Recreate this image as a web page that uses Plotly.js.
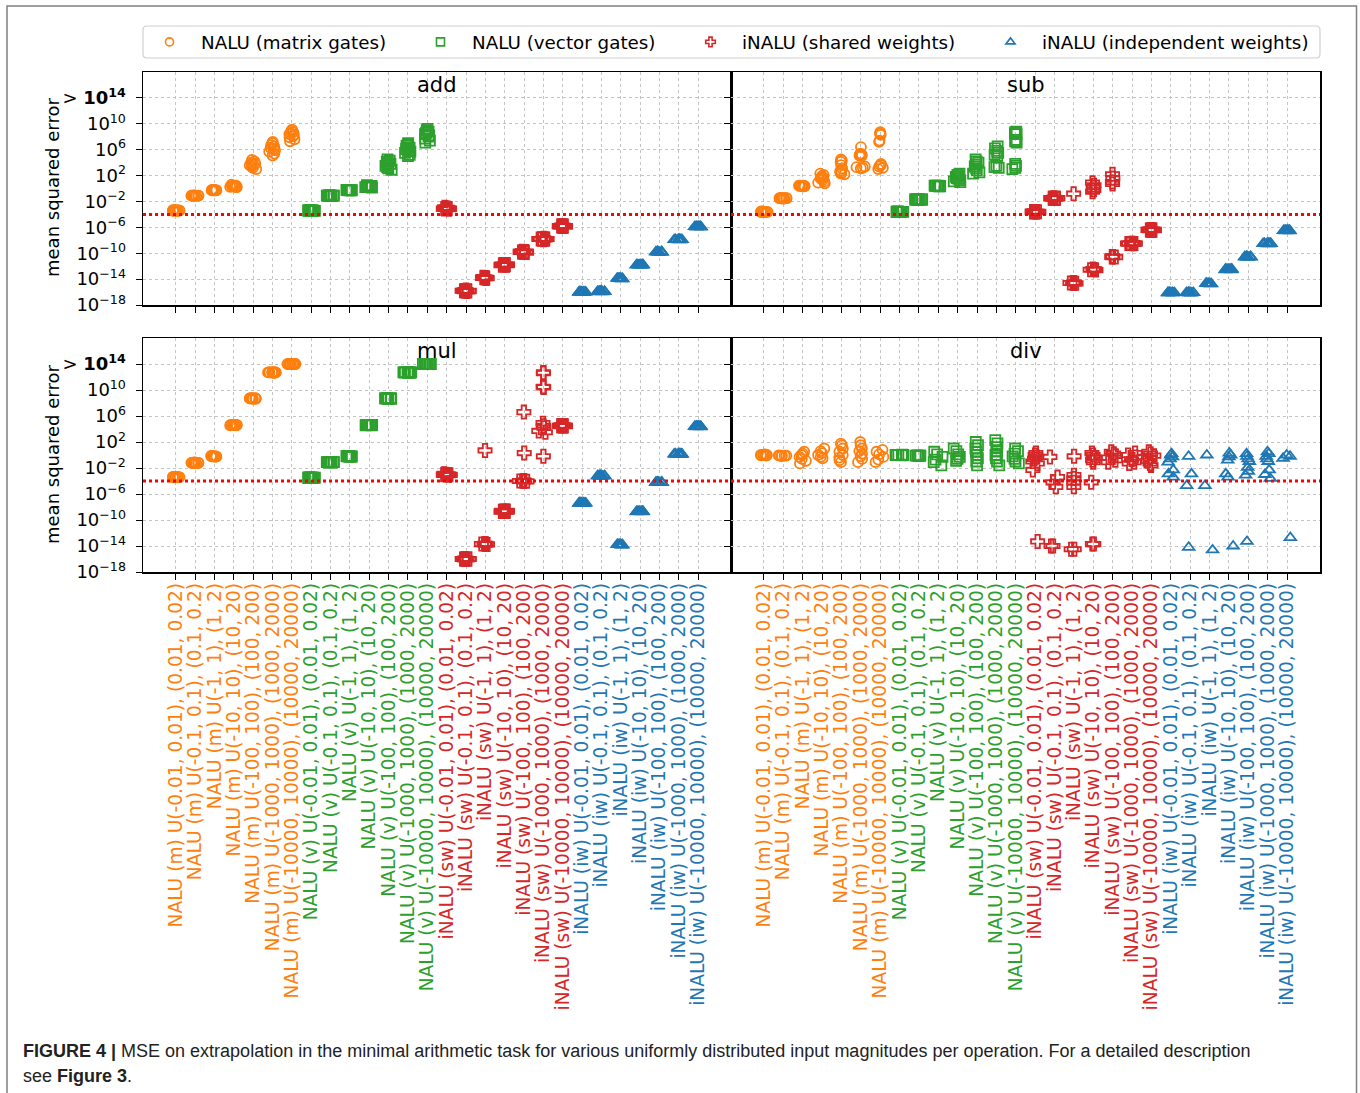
<!DOCTYPE html>
<html><head><meta charset="utf-8">
<script src="https://cdn.plot.ly/plotly-3.0.1.min.js"></script>
<style>html,body{margin:0;padding:0;background:#fff;}#chart{width:1360px;height:1093px;}</style>
</head><body><div id="chart"></div>
<script>
// ---------- categories / labels ----------
const inputRanges = ["U(-0.01, 0.01), (0.01, 0.02)", "U(-0.1, 0.1), (0.1, 0.2)", "U(-1, 1), (1, 2)",
  "U(-10, 10), (10, 20)", "U(-100, 100), (100, 200)", "U(-1000, 1000), (1000, 2000)",
  "U(-10000, 10000), (10000, 20000)"];
const modelPrefixes = ["NALU (m)", "NALU (v)", "iNALU (sw)", "iNALU (iw)"];
const modelNames = ["NALU (matrix gates)", "NALU (vector gates)", "iNALU (shared weights)", "iNALU (independent weights)"];
const modelColors = ["#ff7f0e", "#2ca02c", "#d62728", "#1f77b4"];
const modelSymbols = ["circle-open", "square-open", "cross-open", "triangle-up-open"];
const operations = ["add", "sub", "mul", "div"];
const yTickExponents = [-18, -14, -10, -6, -2, 2, 6, 10, 14];
const yTickText = ["10<sup>−18</sup>", "10<sup>−14</sup>", "10<sup>−10</sup>", "10<sup>−6</sup>", "10<sup>−2</sup>",
  "10<sup>2</sup>", "10<sup>6</sup>", "10<sup>10</sup>", "> <b>10<sup>14</sup></b>"];
const successThreshold = 1e-4;
const yAxisTitle = "mean squared error";
const captionLine1 = "<b>FIGURE 4 |</b> MSE on extrapolation in the minimal arithmetic task for various uniformly distributed input magnitudes per operation. For a detailed description";
const captionLine2 = "see <b>Figure 3</b>.";

// ---------- data: log10(MSE) per seed, one inner list per input range ----------
const add_NALUm = [
  [-3.45,-3.4,-3.4,-3.35,-3.4,-3.45,-3.4,-3.35,-3.4,-3.4],
  [-1.1,-1.05,-1.1,-1.15,-1.1,-1.1,-1.05,-1.1,-1.15,-1.1],
  [-0.3,-0.25,-0.3,-0.2,-0.25,-0.3,-0.3,-0.25,-0.2,-0.3],
  [0.6,0.45,0.4,0.35,0.3,0.3,0.25,0.2,0.35,0.4],
  [4.4,4.2,4.0,3.9,3.8,3.7,3.6,3.4,3.2,3.0],
  [7.2,7.0,6.7,6.5,6.3,6.1,5.9,5.7,5.4,5.1],
  [9.1,8.9,8.7,8.6,8.4,8.3,8.1,7.9,7.6,7.3]];
const add_NALUv = [
  [-3.45,-3.4,-3.45,-3.4,-3.35,-3.4,-3.45,-3.4,-3.4,-3.35],
  [-1.1,-1.1,-1.05,-1.1,-1.15,-1.1,-1.1,-1.05,-1.1,-1.1],
  [-0.25,-0.3,-0.25,-0.2,-0.25,-0.3,-0.25,-0.2,-0.3,-0.25],
  [0.5,0.4,0.3,0.25,0.2,0.15,0.3,0.35,0.25,0.2],
  [4.5,4.3,4.1,3.9,3.8,3.7,3.5,3.3,3.1,2.9],
  [7.0,6.8,6.6,6.3,6.1,5.9,5.7,5.5,5.2,5.0],
  [9.2,9.0,8.8,8.6,8.4,8.2,8.0,7.7,7.4,7.1]];
const add_iNALUsw = [
  [-2.9,-3.0,-3.1,-3.1,-3.15,-3.2,-3.1,-3.05,-3.0,-3.1],
  [-15.7,-15.8,-15.8,-15.85,-15.9,-15.8,-15.75,-15.8,-15.85,-15.8],
  [-13.7,-13.8,-13.8,-13.85,-13.8,-13.75,-13.8,-13.8,-13.85,-13.8],
  [-11.75,-11.8,-11.8,-11.85,-11.8,-11.8,-11.75,-11.8,-11.85,-11.8],
  [-9.7,-9.8,-9.8,-9.85,-9.8,-9.75,-9.8,-9.9,-9.8,-9.8],
  [-7.7,-7.8,-7.8,-7.85,-7.8,-7.75,-7.8,-7.9,-7.8,-7.8],
  [-5.75,-5.8,-5.8,-5.85,-5.8,-5.75,-5.8,-5.85,-5.8,-5.8]];
const add_iNALUiw = [
  [-16.0,-16.05,-16.0,-15.95,-16.0,-16.05,-16.0,-16.0,-15.95,-16.0],
  [-15.9,-15.95,-15.9,-15.85,-15.9,-15.95,-15.9,-15.9,-15.85,-15.9],
  [-13.9,-13.95,-13.9,-13.85,-13.9,-13.9,-13.95,-13.9,-13.85,-13.9],
  [-11.8,-11.85,-11.8,-11.75,-11.8,-11.85,-11.8,-11.8,-11.75,-11.8],
  [-9.8,-9.85,-9.8,-9.75,-9.8,-9.85,-9.8,-9.8,-9.75,-9.8],
  [-7.9,-7.95,-7.9,-7.85,-7.9,-7.95,-7.9,-7.9,-7.85,-7.9],
  [-5.9,-5.95,-5.9,-5.85,-5.9,-5.95,-5.9,-5.9,-5.85,-5.9]];

const sub_NALUm = [
  [-3.6,-3.6,-3.55,-3.65,-3.6,-3.6,-3.55,-3.6,-3.65,-3.6],
  [-1.5,-1.5,-1.45,-1.55,-1.5,-1.5,-1.45,-1.5,-1.55,-1.5],
  [0.4,0.45,0.35,0.4,0.45,0.4,0.35,0.4,0.45,0.4],
  [2.3,2.1,1.9,1.7,1.6,1.5,1.3,1.1,0.9,0.8],
  [4.5,4.3,4.1,3.6,3.1,2.8,2.6,2.4,2.3,2.2],
  [6.4,5.4,5.3,5.2,5.1,5.0,3.4,3.3,3.2,3.1],
  [8.7,8.5,8.3,7.4,7.2,3.8,3.6,3.4,3.2,3.0]];
const sub_NALUv = [
  [-3.6,-3.6,-3.55,-3.65,-3.6,-3.6,-3.55,-3.6,-3.65,-3.6],
  [-1.7,-1.7,-1.65,-1.75,-1.7,-1.7,-1.65,-1.7,-1.75,-1.7],
  [0.4,0.45,0.35,0.4,0.45,0.4,0.35,0.4,0.45,0.4],
  [2.3,2.1,1.9,1.8,1.6,1.5,1.3,1.1,1.0],
  [4.5,4.2,4.0,3.7,3.4,3.1,2.8,2.5,2.3],
  [6.5,6.2,5.8,5.5,5.2,5.0,3.5,3.3,3.2],
  [8.8,8.7,8.5,8.4,7.5,7.3,7.1,3.8,3.5,3.2,3.0]];
const sub_iNALUsw = [
  [-3.6,-3.6,-3.55,-3.65,-3.6,-3.6,-3.55,-3.6,-3.65,-3.6],
  [-1.5,-1.5,-1.45,-1.55,-1.5,-1.5,-1.45,-1.5,-1.55,-1.5],
  [-0.8,-14.6,-14.6,-14.55,-14.65,-14.6,-14.6,-14.55,-14.65,-14.6],
  [0.9,0.5,0.2,-0.2,-0.5,-12.5,-12.5,-12.6,-12.45,-12.55],
  [2.2,1.6,1.0,0.7,-10.5,-10.6,-10.55,-10.6,-10.5,-10.55],
  [-8.5,-8.5,-8.45,-8.55,-8.5,-8.5,-8.45,-8.55,-8.5,-8.5],
  [-6.4,-6.4,-6.35,-6.45,-6.4,-6.4,-6.35,-6.45,-6.4,-6.4]];
const sub_iNALUiw = [
  [-16.1,-16.1,-16.05,-16.15,-16.1,-16.1,-16.05,-16.15,-16.1,-16.1],
  [-16.1,-16.1,-16.05,-16.15,-16.1,-16.1,-16.05,-16.15,-16.1,-16.1],
  [-14.7,-14.7,-14.65,-14.75,-14.7,-14.7,-14.65,-14.75,-14.7,-14.7],
  [-12.5,-12.5,-12.45,-12.55,-12.5,-12.5,-12.45,-12.55,-12.5,-12.5],
  [-10.55,-10.55,-10.5,-10.6,-10.55,-10.55,-10.5,-10.6,-10.55,-10.55],
  [-8.5,-8.5,-8.45,-8.55,-8.5,-8.5,-8.45,-8.55,-8.5,-8.5],
  [-6.5,-6.5,-6.45,-6.55,-6.5,-6.5,-6.45,-6.55,-6.5,-6.5]];

const mul_NALUm = [
  [-3.4,-3.4,-3.35,-3.45,-3.4,-3.4,-3.35,-3.45,-3.4,-3.4],
  [-1.2,-1.2,-1.15,-1.25,-1.2,-1.2,-1.15,-1.25,-1.2,-1.2],
  [-0.2,-0.2,-0.15,-0.25,-0.2,-0.2,-0.15,-0.25,-0.2,-0.2],
  [4.6,4.6,4.55,4.65,4.6,4.6,4.55,4.65,4.6,4.6],
  [8.7,8.7,8.65,8.75,8.7,8.7,8.65,8.75,8.7,8.7],
  [12.7,12.7,12.65,12.75,12.7,12.7,12.65,12.75,12.7,12.7],
  [14,14,14,14,14,14,14,14,14,14]];
const mul_NALUv = [
  [-3.5,-3.5,-3.45,-3.55,-3.5,-3.5,-3.45,-3.55,-3.5,-3.5],
  [-1.1,-1.1,-1.05,-1.15,-1.1,-1.1,-1.05,-1.15,-1.1,-1.1],
  [-0.2,-0.2,-0.15,-0.25,-0.2,-0.2,-0.15,-0.25,-0.2,-0.2],
  [4.6,4.6,4.55,4.65,4.6,4.6,4.55,4.65,4.6,4.6],
  [8.7,8.7,8.65,8.75,8.7,8.7,8.65,8.75,8.7,8.7],
  [12.7,12.7,12.65,12.75,12.7,12.7,12.65,12.75,12.7,12.7],
  [14,14,14,14,14,14,14,14,14,14]];
const mul_iNALUsw = [
  [-2.9,-3.0,-3.0,-3.05,-3.1,-3.0,-2.95,-3.0,-3.05,-3.0],
  [-16.0,-16.0,-15.95,-16.05,-16.0,-16.0,-15.95,-16.05,-16.0,-16.0],
  [0.7,-13.7,-13.7,-13.65,-13.75,-13.7,-13.7,-13.65,-13.75,-13.7],
  [-8.65,-8.65,-8.6,-8.7,-8.65,-8.65,-8.6,-8.7,-8.65,-8.65],
  [6.6,0.3,-4.0,-4.0,-3.95,-4.05,-4.0,-4.0,-3.95,-4.05],
  [12.7,12.6,10.5,10.4,4.9,4.5,4.2,3.7,3.5,-0.2],
  [4.5,4.5,4.45,4.55,4.5,4.5,4.45,4.55,4.5,4.5]];
const mul_iNALUiw = [
  [-7.4,-7.4,-7.35,-7.45,-7.4,-7.4,-7.35,-7.45,-7.4,-7.4],
  [-3.2,-3.2,-3.15,-3.25,-3.2,-3.2,-3.15,-3.25,-3.2,-3.2],
  [-13.8,-13.8,-13.75,-13.85,-13.8,-13.8,-13.75,-13.85,-13.8,-13.8],
  [-8.7,-8.7,-8.65,-8.75,-8.7,-8.7,-8.65,-8.75,-8.7,-8.7],
  [-4.2,-4.2,-4.15,-4.25,-4.2,-4.2,-4.15,-4.25,-4.2,-4.2],
  [0.15,0.15,0.1,0.2,0.15,0.15,0.1,0.2,0.15,0.15],
  [4.4,4.4,4.35,4.45,4.4,4.4,4.35,4.45,4.4,4.4]];

const div_NALUm = [
  [0.1,0.0,0.0,-0.1,0.0,0.05,0.0,-0.05],
  [-0.1,-0.1,-0.05,-0.15,-0.1,-0.1],
  [0.5,0.2,0.0,-0.3,-0.6,-0.9,-1.3],
  [1.0,0.6,0.3,0.0,-0.3,-0.5],
  [1.75,1.5,1.0,0.5,0.0,-0.4,-0.8,-1.1],
  [2.0,1.5,1.0,0.6,0.2,-0.2,-0.6,-1.1],
  [0.8,0.5,0.1,-0.3,-0.7,-1.1]];
const div_NALUv = [
  [0.0,0.0,0.05,-0.05,0.0,0.0],
  [-0.1,-0.1,-0.05,-0.15,-0.1,-0.1],
  [0.5,0.1,-0.3,-0.7,-1.1,-1.6],
  [1.0,0.6,0.1,-0.3,-0.6,-0.9],
  [2.0,1.5,1.0,0.5,0.0,-0.5,-1.0,-1.6],
  [2.3,1.8,1.2,0.6,0.0,-0.5,-1.0,-1.6],
  [1.0,0.6,0.2,-0.2,-0.6,-1.0,-1.3]];
const div_iNALUsw = [
  [0.3,0.0,-0.3,-0.6,-1.0,-1.3,-2.3,-13.3],
  [-0.3,-3.4,-4.2,-4.9,-14.0,-14.0],
  [-0.2,-3.1,-3.6,-4.2,-4.9,-14.5,-14.5],
  [0.3,0.0,-0.4,-0.8,-1.1,-4.2,-13.7,-13.7],
  [0.5,0.2,-0.1,-0.4,-0.8,-1.1],
  [0.3,0.0,-0.3,-0.7,-1.1,-1.3],
  [0.5,0.2,-0.1,-0.5,-0.9,-1.3,-1.6]];
const div_iNALUiw = [
  [0.2,0.0,-0.3,-0.6,-1.1,-2.3,-2.9,-3.4],
  [-0.2,-2.9,-4.7,-14.2],
  [0.0,-4.7,-14.6],
  [0.3,0.0,-0.3,-0.8,-2.9,-3.4,-14.0],
  [0.2,-0.2,-0.6,-1.0,-1.9,-2.5,-3.1,-13.3],
  [0.5,0.2,-0.2,-0.6,-1.0,-2.3,-3.0,-3.6],
  [0.0,-0.2,-0.5,-12.7]];

const opData = {
  add: [add_NALUm, add_NALUv, add_iNALUsw, add_iNALUiw],
  sub: [sub_NALUm, sub_NALUv, sub_iNALUsw, sub_iNALUiw],
  mul: [mul_NALUm, mul_NALUv, mul_iNALUsw, mul_iNALUiw],
  div: [div_NALUm, div_NALUv, div_iNALUsw, div_iNALUiw]
};

// ---------- geometry helpers (page px -> paper) ----------
const L = 143, R = 1320, T = 72, B = 572, W = 1360, H = 1093;
const PW = R - L, PH = B - T;
const px = v => (v - L) / PW;
const py = v => (B - v) / PH;
const midX = px(731);

const catLabels = [], catTicks = [];
modelPrefixes.forEach((p, g) => inputRanges.forEach(r => {
  const lab = p + " " + r;
  catLabels.push(lab);
  catTicks.push('<span style="color:' + modelColors[g] + '">' + lab + '</span>');
}));

const axisSuffix = ["", "2", "3", "4"];
const traces = [];
operations.forEach((op, oi) => {
  opData[op].forEach((series, g) => {
    const xs = [], ys = [];
    series.forEach((vals, ri) => vals.forEach(v => {
      xs.push(modelPrefixes[g] + " " + inputRanges[ri]);
      ys.push(Math.pow(10, v));
    }));
    traces.push({
      type: 'box', x: xs, y: ys, xaxis: 'x' + axisSuffix[oi], yaxis: 'y' + axisSuffix[oi],
      boxpoints: 'all', jitter: 1.0, pointpos: 0, whiskerwidth: 0,
      fillcolor: 'rgba(0,0,0,0)', line: {width: 0, color: 'rgba(0,0,0,0)'},
      marker: {symbol: modelSymbols[g], size: g === 2 ? 11 : 10, color: modelColors[g],
               line: {width: 1.8, color: modelColors[g]}},
      showlegend: false, hoveron: 'points', name: modelNames[g]
    });
  });
});
// legend-only entries
const legendMarkerX = [170, 440, 710, 1010];
modelNames.forEach((n, g) => {
  traces.push({type: 'scatter', mode: 'markers', x: [null], y: [null], xaxis: 'x', yaxis: 'y',
    name: n, legend: g === 0 ? 'legend' : 'legend' + (g + 1), showlegend: true,
    marker: {symbol: modelSymbols[g], size: 8, color: modelColors[g], line: {width: 1.6, color: modelColors[g]}}});
});

const font = {family: 'DejaVu Sans', size: 18, color: '#000'};
function xax(domain, anchor, showLabels) {
  return {domain, anchor, type: 'category', range: [-1.7, 28.7], categoryorder: 'array', categoryarray: catLabels,
    tickmode: 'array', tickvals: catLabels, ticktext: catTicks, showticklabels: showLabels, tickangle: -90,
    ticks: 'outside', ticklen: 6, tickcolor: '#000', tickwidth: 1, showgrid: true, gridcolor: '#c4c4c4',
    griddash: 'dot', gridwidth: 1, showline: true, linecolor: '#000', linewidth: 1.5, mirror: true,
    zeroline: false, tickfont: {family: 'DejaVu Sans', size: 18.6}, ticklabelstandoff: -4,
    automargin: false, fixedrange: true};
}
function yax(domain, anchor, showLabels) {
  return {domain, anchor, type: 'log', range: [-18, 18], tickmode: 'array',
    tickvals: yTickExponents.map(e => Math.pow(10, e)), ticktext: yTickText, showticklabels: showLabels,
    ticks: 'outside', ticklen: 6, tickcolor: '#000', tickwidth: 1, showgrid: true, gridcolor: '#c4c4c4',
    griddash: 'dot', gridwidth: 1, showline: true, linecolor: '#000', linewidth: 1.5, mirror: true,
    zeroline: false, tickfont: {family: 'DejaVu Sans', size: 18}, ticklabelstandoff: 6, automargin: false, fixedrange: true};
}
const topDom = [py(305), 1], botDom = [0, py(338)];

const shapes = [];
['', '2', '3', '4'].forEach(s => shapes.push({type: 'line', xref: 'x' + s + ' domain', yref: 'y' + s,
  x0: 0, x1: 1, y0: successThreshold, y1: successThreshold, line: {color: '#ff0000', width: 3, dash: 'dot'}}));
// legend frame (rounded)
const lx0 = 0, lx1 = 1, ly0 = py(58), ly1 = py(26), rx = 4 / PW, ry = 4 / PH;
shapes.push({type: 'path', xref: 'paper', yref: 'paper', line: {color: '#d0d0d0', width: 1.2}, fillcolor: 'rgba(0,0,0,0)',
  path: `M ${lx0 + rx} ${ly1} L ${lx1 - rx} ${ly1} Q ${lx1} ${ly1} ${lx1} ${ly1 - ry} L ${lx1} ${ly0 + ry} Q ${lx1} ${ly0} ${lx1 - rx} ${ly0} L ${lx0 + rx} ${ly0} Q ${lx0} ${ly0} ${lx0} ${ly0 + ry} L ${lx0} ${ly1 - ry} Q ${lx0} ${ly1} ${lx0 + rx} ${ly1} Z`});
// outer figure frame
shapes.push({type: 'rect', xref: 'paper', yref: 'paper', x0: px(7), x1: px(1356.5), y0: py(1110), y1: py(6),
  line: {color: '#808080', width: 1.5}, fillcolor: 'rgba(0,0,0,0)'});

const annotations = [];
const titlePos = [[px(437), py(85)], [px(1025.5), py(85)], [px(437), py(351)], [px(1025.5), py(351)]];
operations.forEach((op, i) => annotations.push({text: op, xref: 'paper', yref: 'paper', x: titlePos[i][0], y: titlePos[i][1],
  xanchor: 'center', yanchor: 'middle', showarrow: false, font: {family: 'DejaVu Sans', size: 21, color: '#000'}}));
[[py(188)], [py(455)]].forEach(p => annotations.push({text: yAxisTitle, xref: 'paper', yref: 'paper', x: px(52), y: p[0],
  xanchor: 'center', yanchor: 'middle', textangle: -90, showarrow: false, font: {family: 'DejaVu Sans', size: 18, color: '#000'}}));
annotations.push({text: captionLine1, xref: 'paper', yref: 'paper', x: px(21), y: py(1051), xanchor: 'left', yanchor: 'middle',
  showarrow: false, font: {family: 'Liberation Sans', size: 18, color: '#222'}});
annotations.push({text: captionLine2, xref: 'paper', yref: 'paper', x: px(21), y: py(1076), xanchor: 'left', yanchor: 'middle',
  showarrow: false, font: {family: 'Liberation Sans', size: 18, color: '#222'}});

const legendBase = {orientation: 'h', bgcolor: 'rgba(0,0,0,0)', borderwidth: 0, yanchor: 'middle', y: py(42), xanchor: 'left',
  font: {family: 'DejaVu Sans', size: 18.3, color: '#000'}, itemwidth: 53, itemclick: false, itemdoubleclick: false};
const layout = {
  width: W, height: H, paper_bgcolor: '#fff', plot_bgcolor: 'rgba(0,0,0,0)', font,
  margin: {l: L, r: W - R, t: T, b: H - B, pad: 0}, boxmode: 'overlay', boxgap: 0.3,
  xaxis: xax([0, midX], 'y', false), yaxis: yax(topDom, 'x', true),
  xaxis2: xax([midX, 1], 'y2', false), yaxis2: yax(topDom, 'x2', false),
  xaxis3: xax([0, midX], 'y3', true), yaxis3: yax(botDom, 'x3', true),
  xaxis4: xax([midX, 1], 'y4', true), yaxis4: yax(botDom, 'x4', false),
  shapes, annotations, showlegend: true,
  legend: Object.assign({}, legendBase, {x: px(legendMarkerX[0] - 32)}),
  legend2: Object.assign({}, legendBase, {x: px(legendMarkerX[1] - 31)}),
  legend3: Object.assign({}, legendBase, {x: px(legendMarkerX[2] - 31)}),
  legend4: Object.assign({}, legendBase, {x: px(legendMarkerX[3] - 31)})
};
Plotly.newPlot('chart', traces, layout, {displayModeBar: false, staticPlot: true});
</script></body></html>
